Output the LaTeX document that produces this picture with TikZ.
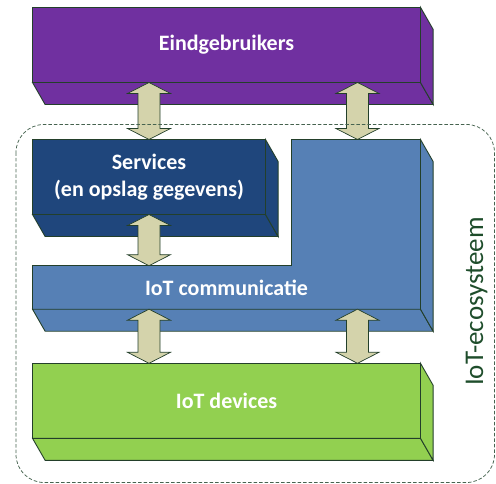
\documentclass[tikz,border=0pt]{standalone}
\usepackage{fontspec}
\setmainfont{Carlito}
\usepackage{tikz}
\usetikzlibrary{calc}

\definecolor{eindpurple}{HTML}{7030A0}
\definecolor{servblue}{HTML}{1F467C}
\definecolor{commblue}{HTML}{5680B5}
\definecolor{devgreen}{HTML}{92D050}
\definecolor{arrowtan}{HTML}{D4D3AB}
\definecolor{edgegreen}{HTML}{233F2A}
\definecolor{ecogreen}{HTML}{1E4D2B}
\definecolor{framegray}{HTML}{46634F}

\tikzset{
  slab/.style={draw=edgegreen, line width=0.9pt, inner sep=0pt, outer sep=0pt,
    text=white, align=center, font=\bfseries\fontsize{22}{27}\selectfont},
  face/.style={draw=edgegreen, line width=0.9pt, line join=miter},
  dblarrow/.style={draw=edgegreen, fill=arrowtan, line width=0.7pt, line join=miter},
  ecoframe/.style={draw=framegray, line width=0.75pt, dash pattern=on 3.5pt off 2pt, rounded corners=28pt},
}

% up/down block arrow from top tip #1 to bottom tip #2
\newcommand{\updown}[2]{%
  \draw[dblarrow] (#1) -- ++(21.5,11) -- ++(-10.5,0) -- ($(#2)+(11,-11)$) -- ++(10.5,0)
    -- (#2) -- ++(-21.5,-11) -- ++(10.5,0) -- ($(#1)+(-11,11)$) -- ++(-10.5,0) -- cycle;}

\begin{document}
\begin{tikzpicture}[x=1pt,y=1pt,yscale=-1,xscale=1]
\useasboundingbox (0,0) rectangle (496,484);

%Eindgebruikers
\node[slab, fill=eindpurple, minimum width=388pt, minimum height=75.2pt] (eind) at (226.5,44.9) {Eindgebruikers};
\draw[face, fill=eindpurple] (eind.south west) -- ([shift={(12.6,22)}]eind.south west) -- ([shift={(12.6,22)}]eind.south east) -- (eind.south east) -- cycle;
\draw[face, fill=eindpurple] (eind.north east) -- ([shift={(12.6,22)}]eind.north east) -- ([shift={(12.6,22)}]eind.south east) -- (eind.south east) -- cycle;

%IoT communicatie (L shape)
\draw[face, fill=commblue] (32.5,265.7) -- (291.5,265.7) -- (291.5,139.5) -- (420.5,139.5) -- (420.5,309.2) -- (32.5,309.2) -- cycle;
\draw[face, fill=commblue] (32.5,309.2) -- (45.1,331.2) -- (433.1,331.2) -- (420.5,309.2) -- cycle;
\draw[face, fill=commblue] (420.5,139.5) -- (433.1,161.5) -- (433.1,331.2) -- (420.5,309.2) -- cycle;
\node[slab, draw=none, minimum width=388pt, minimum height=43.5pt] (comm) at (226.5,287.45) {IoT communicatie};
\coordinate (post) at (357.5,139.5);

%Services
\node[slab, fill=servblue, minimum width=233pt, minimum height=75pt] (serv) at (149,177) {Services\\(en opslag gegevens)};
\draw[face, fill=servblue] (serv.south west) -- ([shift={(12.6,22)}]serv.south west) -- ([shift={(12.6,22)}]serv.south east) -- (serv.south east) -- cycle;
\draw[face, fill=servblue] (serv.north east) -- ([shift={(12.6,22)}]serv.north east) -- ([shift={(12.6,22)}]serv.south east) -- (serv.south east) -- cycle;

%IoT devices
\node[slab, fill=devgreen, minimum width=388pt, minimum height=75pt] (dev) at (226.5,400.8) {IoT devices};
\draw[face, fill=devgreen] (dev.south west) -- ([shift={(12.6,22)}]dev.south west) -- ([shift={(12.6,22)}]dev.south east) -- (dev.south east) -- cycle;
\draw[face, fill=devgreen] (dev.north east) -- ([shift={(12.6,22)}]dev.north east) -- ([shift={(12.6,22)}]dev.south east) -- (dev.south east) -- cycle;

%Arrows
\updown{serv.north |- eind.south}{serv.north}
\updown{post |- eind.south}{post}
\updown{serv.south}{serv.south |- comm.north}
\updown{serv.south |- comm.south}{serv.south |- dev.north}
\updown{post |- comm.south}{post |- dev.north}

%Ecosystem frame
\draw[ecoframe] (16,124.5) rectangle (494.5,482.5);
\node[rotate=90, anchor=base, inner sep=0pt, text=ecogreen, font=\fontsize{27}{32}\selectfont] (eco) at (483,301.5) {IoT-ecosysteem};

\end{tikzpicture}
\end{document}
